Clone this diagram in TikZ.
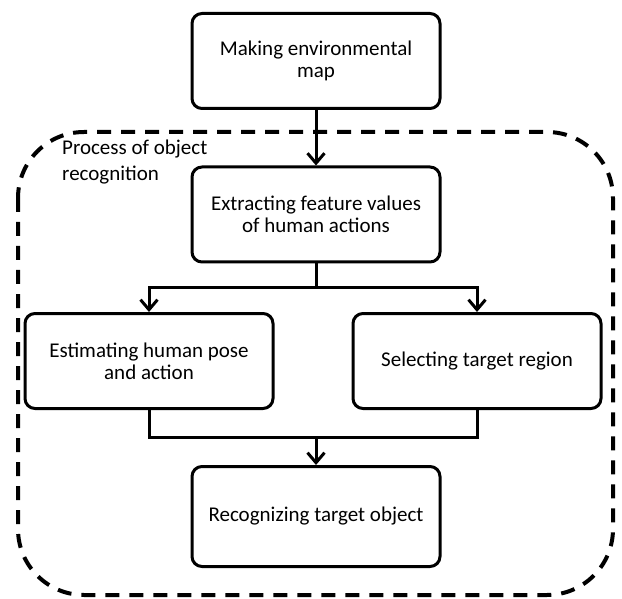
\documentclass[tikz,border=0pt]{standalone}
\usepackage{fontspec}
\setmainfont{Carlito}
\usetikzlibrary{arrows.meta, positioning, calc}

\begin{document}
\begin{tikzpicture}[x=1pt,y=-1pt,
  box/.style={draw,line width=3pt,rounded corners=10pt,
              minimum width=248pt,minimum height=95pt,inner sep=2pt,
              font=\fontsize{21}{22}\selectfont,align=center},
  arr/.style={-{Straight Barb[length=10pt,width=17pt]},line width=3pt},
  link/.style={line width=3pt},
  proc/.style={draw,dash pattern=on 14pt off 10pt,line width=4pt,rounded corners=66pt}
]
\useasboundingbox (0,0) rectangle (622,599);

% region of the recognition process
\draw[proc] (18,132) rectangle (613,595);
\node[anchor=north west,inner sep=0pt,align=left,font=\fontsize{21}{26}\selectfont]
  (proclabel) at (62,140) {Process of object\\recognition};

\node[box] (map)    at (316,61)    {Making environmental\\map};
\node[box] (feat)   at (316,214.5) {Extracting feature values\\of human actions};
\node[box] (pose)   at (149,361)   {Estimating human pose\\and action};
\node[box] (region) at (477,361)   {Selecting target region};
\node[box, minimum height=100pt] (recog) at (316,516.5) {Recognizing target object};

\coordinate (split) at (316,288);
\coordinate (merge) at (316,437);

\draw[arr] (map) -- (feat);
\draw[link] (feat) -- (split);
\draw[arr] (split) -| (pose);
\draw[arr] (split) -| (region);
\draw[link] (pose) |- (merge);
\draw[link] (region) |- (merge);
\draw[arr] (merge) -- (recog);
\end{tikzpicture}
\end{document}
